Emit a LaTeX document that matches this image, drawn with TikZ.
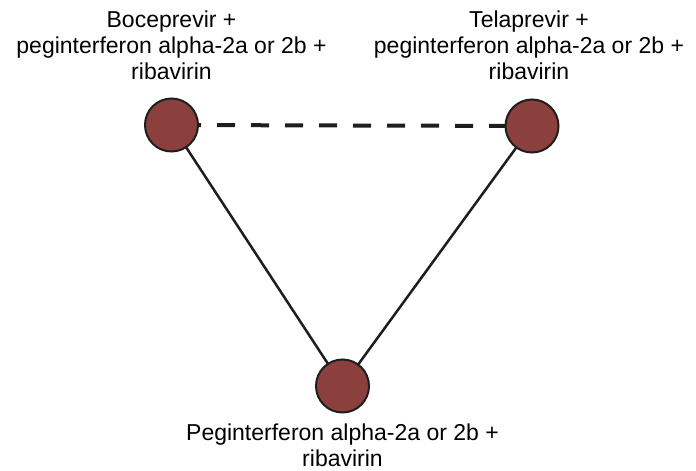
\documentclass[tikz,border=0pt]{standalone}
\usepackage{fontspec}
\setmainfont{Liberation Sans}
\definecolor{nodefill}{RGB}{140,64,62}
\definecolor{linecol}{RGB}{30,30,30}
\begin{document}
\begin{tikzpicture}[x=1pt,y=-1pt,
  drug/.style={circle,draw=linecol,line width=2pt,fill=nodefill,minimum size=53pt,inner sep=0pt},
  lbl/.style={align=center,inner sep=0pt,anchor=north,font=\fontsize{23}{26}\selectfont},
  link/.style={draw=linecol,line width=2.5pt},
  indirect/.style={draw=linecol,line width=4pt,dash pattern=on 18pt off 16pt,dash phase=22.5pt}]
\useasboundingbox (0,0) rectangle (696,471);
\node[lbl] (tl) at (171.5,11) {Boceprevir +\\peginterferon alpha-2a or 2b +\\ribavirin};
\node[lbl] (tr) at (529,11) {Telaprevir +\\peginterferon alpha-2a or 2b +\\ribavirin};
\node[lbl] (bl) at (342.5,424) {Peginterferon alpha-2a or 2b +\\ribavirin};
\coordinate (A) at (171.5,125);
\coordinate (B) at (532,126);
\coordinate (C) at (342.5,386);
\draw[link] (A) -- (C);
\draw[link] (B) -- (C);
\draw[indirect] (A) -- (B);
\node[drug] (a) at (A) {};
\node[drug] (b) at (B) {};
\node[drug] (c) at (C) {};
\end{tikzpicture}
\end{document}
